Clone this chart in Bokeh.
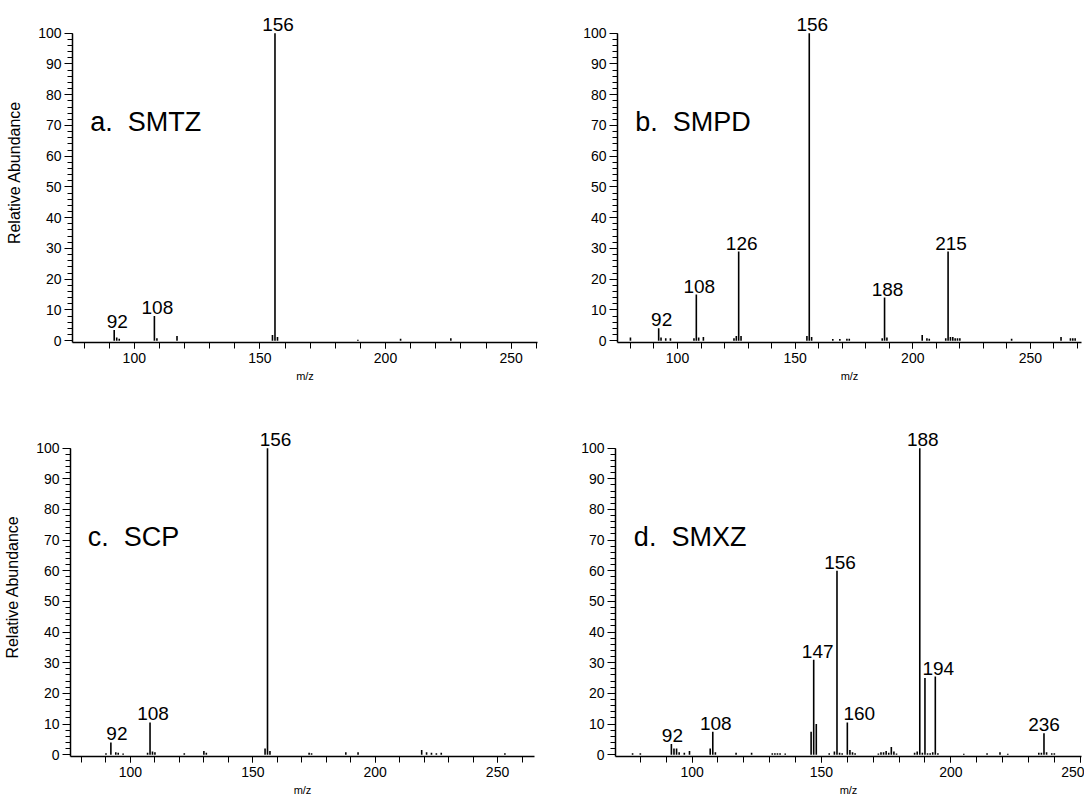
from bokeh.plotting import figure
from bokeh.models import Label, FixedTicker, Range1d, ColumnDataSource
from bokeh.layouts import column, row
from bokeh.embed import file_html
from bokeh.resources import INLINE

FONT = "Liberation Sans"

# ---- data: m/z and relative abundance per compound ----
smtz_mz = [92, 93, 94, 108, 109, 117, 155, 156, 157, 189, 206, 226]
smtz_ab = [3.5, 1.0, 0.6, 8.0, 0.8, 1.5, 1.8, 100, 1.2, 0.3, 0.6, 0.8]
smtz_labels = [92, 108, 156]

smpd_mz = [80, 92, 93, 95, 97, 107, 108, 109, 111, 124, 125, 126, 127, 155, 156, 157,
           166, 169, 172, 173, 187, 188, 189, 204, 206, 207, 214, 215, 216, 217, 218,
           219, 220, 242, 263, 267, 268, 269]
smpd_ab = [1.0, 4.0, 1.0, 0.8, 0.8, 0.8, 15, 1.0, 1.2, 0.8, 1.5, 29, 1.5, 1.5, 100, 1.2,
           0.5, 0.5, 0.6, 0.6, 0.8, 14, 1.0, 1.8, 0.8, 0.6, 0.8, 29, 1.2, 1.2, 0.8,
           0.8, 0.8, 0.6, 1.2, 0.8, 0.8, 0.8]
smpd_labels = [92, 108, 126, 156, 188, 215]

scp_mz = [90, 92, 94, 95, 97, 107, 108, 109, 110, 122, 130, 131, 155, 156, 157,
          173, 174, 188, 193, 219, 221, 223, 225, 227, 253]
scp_ab = [0.5, 4.0, 0.8, 0.6, 0.4, 0.6, 10.5, 1.0, 0.8, 0.5, 1.2, 0.6, 2.0, 100, 1.2,
          0.6, 0.5, 0.8, 0.8, 1.5, 0.8, 0.6, 0.5, 0.6, 0.5]
scp_labels = [92, 108, 156]

smxz_mz = [77, 80, 92, 93, 94, 95, 97, 99, 107, 108, 109, 117, 123, 131, 132, 133, 134,
           136, 146, 147, 148, 153, 155, 156, 157, 158, 160, 161, 162, 163, 172, 173,
           174, 175, 176, 177, 178, 179, 186, 187, 188, 189, 190, 191, 192, 193, 194,
           195, 205, 214, 219, 222, 234, 235, 236, 237, 239, 240]
smxz_ab = [0.5, 0.5, 3.5, 2.0, 2.0, 0.8, 0.6, 1.2, 2.0, 7.5, 0.8, 0.6, 0.6, 0.5, 0.5, 0.5, 0.5,
           0.4, 7.5, 31, 10, 0.5, 1.0, 60, 0.6, 0.5, 10.5, 1.5, 0.8, 0.5, 0.4, 0.8,
           0.8, 1.2, 0.6, 2.5, 1.0, 0.4, 0.6, 1.0, 100, 0.6, 25, 0.5, 0.5, 0.8, 25.5,
           0.5, 0.3, 0.5, 0.8, 0.3, 0.6, 0.6, 7.0, 0.8, 0.5, 0.5]
smxz_labels = [92, 108, 147, 156, 160, 188, 194, 236]

titles = ["a. \u00a0SMTZ", "b. \u00a0SMPD", "c. \u00a0SCP", "d. \u00a0SMXZ"]
x_label = "m/z"
y_label = "Relative Abundance"

x_major = [50, 100, 150, 200, 250, 300]
x_minor = list(range(60, 300, 10))
y_major = list(range(0, 101, 10))
y_minor = list(range(0, 101, 2))


def panel(mz, ab, labeled, title, xr, title_x, w, h, bl, br, bt, bb, ylab, label_dx):
    p = figure(width=w, height=h, x_range=Range1d(*xr), y_range=Range1d(-0.6, 110.0),
               output_backend="svg", toolbar_location=None,
               min_border_left=bl, min_border_right=br, min_border_top=bt, min_border_bottom=bb)
    p.outline_line_color = None
    p.xgrid.visible = False
    p.ygrid.visible = False
    p.background_fill_color = "white"
    p.border_fill_color = "white"

    src = ColumnDataSource(dict(x=mz, y0=[0] * len(mz), y1=ab))
    p.segment(x0="x", y0="y0", x1="x", y1="y1", source=src, line_color="black", line_width=1.6)

    lookup = dict(zip(mz, ab))
    for m in labeled:
        p.add_layout(Label(x=m, y=lookup[m], text=str(m), text_align="center",
                           text_baseline="bottom", x_offset=label_dx.get(m, 3), y_offset=2,
                           text_font=FONT, text_font_size="19px", text_color="black"))

    p.add_layout(Label(x=title_x, y=71, text=title, text_align="left", text_baseline="middle",
                       text_font=FONT, text_font_size="27px", text_color="black"))

    xa = p.xaxis[0]
    xa.ticker = FixedTicker(ticks=x_major, minor_ticks=x_minor)
    xa.major_tick_out = 6
    xa.minor_tick_out = 6
    xa.major_tick_in = 0
    xa.minor_tick_in = 0
    xa.axis_line_width = 1.5
    xa.axis_line_color = "black"
    xa.major_tick_line_color = "black"
    xa.minor_tick_line_color = "black"
    xa.major_label_text_font = FONT
    xa.major_label_text_font_size = "14px"
    xa.major_label_text_color = "black"
    xa.major_label_standoff = 4
    xa.axis_label = x_label
    xa.axis_label_text_font = FONT
    xa.axis_label_text_font_size = "11px"
    xa.axis_label_text_font_style = "normal"
    xa.axis_label_text_color = "black"
    xa.axis_label_standoff = 4

    ya = p.yaxis[0]
    ya.ticker = FixedTicker(ticks=y_major, minor_ticks=y_minor)
    ya.bounds = (-0.6, 100)
    ya.major_tick_out = 8
    ya.minor_tick_out = 5
    ya.major_tick_in = 0
    ya.minor_tick_in = 0
    ya.axis_line_width = 1.5
    ya.axis_line_color = "black"
    ya.major_tick_line_color = "black"
    ya.minor_tick_line_color = "black"
    ya.major_label_text_font = FONT
    ya.major_label_text_font_size = "14px"
    ya.major_label_text_color = "black"
    ya.major_label_standoff = 3
    if ylab:
        ya.axis_label = y_label
        ya.axis_label_text_font = FONT
        ya.axis_label_text_font_size = "16px"
        ya.axis_label_text_font_style = "normal"
        ya.axis_label_text_color = "black"
        ya.axis_label_standoff = 12
    return p


pa = panel(smtz_mz, smtz_ab, smtz_labels, titles[0], (75.4, 260.5), 82.5,
           560, 395, 72, 23, 2, 53, True, {})
pb = panel(smpd_mz, smpd_ab, smpd_labels, titles[1], (74.5, 271.7), 82.0,
           524, 395, 57, 3, 2, 53, False, {})
pc = panel(scp_mz, scp_ab, scp_labels, titles[2], (75.5, 265.1), 82.5,
           560, 403, 70, 26, 22, 41, True, {92: 6, 156: 8})
pd = panel(smxz_mz, smxz_ab, smxz_labels, titles[3], (70.4, 250.5), 77.5,
           524, 403, 55, 3, 22, 41, False, {160: 12, 147: 4, 236: 0, 92: 1})

layout = column(row(pa, pb), row(pc, pd))

open("out.html", "w").write(file_html(layout, INLINE))
